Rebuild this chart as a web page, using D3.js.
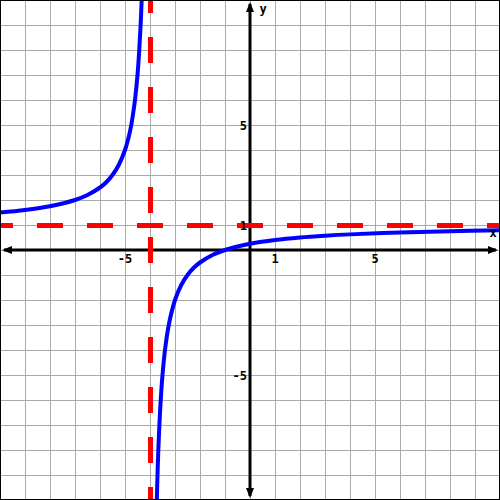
<!DOCTYPE html>
<html>
<head>
<meta charset="utf-8">
<script src="https://cdn.jsdelivr.net/npm/d3@7"></script>
<style>
  body { margin: 0; background: #fff; }
  text { font-family: "DejaVu Sans Mono", monospace; font-weight: bold; font-size: 12px; }
</style>
</head>
<body>
<div id="plot"></div>
<script>
// graph of a rational function, asymptotes x = -4 and y = 1

const domainX = [-10, 10];
const domainY = [-10, 10];
const xTickLabels = [-5, 1, 5];
const yTickLabels = [5, 1, -5];
const vAsymptote = -4;
const hAsymptote = 1;

// left branch
const leftX = [-10, -9, -8, -7, -6.5, -6, -5.75, -5.5, -5.25, -5, -4.85, -4.75, -4.67, -4.6, -4.5, -4.43, -4.375, -4.333];
const leftY = [1.5, 1.6, 1.75, 2.0, 2.2, 2.5, 2.71, 3.0, 3.4, 4.0, 4.53, 5.0, 5.5, 6.0, 7.0, 8.0, 9.0, 10];
// right branch
const rightX = [-3.727, -3.7, -3.667, -3.6, -3.55, -3.5, -3.4, -3.25, -3, -2.75, -2.5, -2.25, -2, -1.5, -1, -0.5, 0, 1, 2, 3, 4, 6, 8, 10];
const rightY = [-10, -9.0, -8.0, -6.5, -5.67, -5.0, -4.0, -3.0, -2.0, -1.4, -1.0, -0.71, -0.5, -0.2, 0, 0.14, 0.25, 0.4, 0.5, 0.57, 0.625, 0.7, 0.75, 0.786];

(function(){
  const size = 500;
  const svg = d3.select("#plot").append("svg").attr("width", size).attr("height", size);

  const x = d3.scaleLinear().domain(domainX).range([0, size]);
  const y = d3.scaleLinear().domain(domainY).range([size, 0]);

  // grid
  const grid = svg.append("g").attr("stroke", "#aaaaaa").attr("stroke-width", 1).attr("shape-rendering", "crispEdges");
  d3.range(domainX[0], domainX[1] + 1).forEach(v => {
    grid.append("line").attr("x1", x(v)).attr("x2", x(v)).attr("y1", 0).attr("y2", size);
  });
  d3.range(domainY[0], domainY[1] + 1).forEach(v => {
    grid.append("line").attr("y1", y(v)).attr("y2", y(v)).attr("x1", 0).attr("x2", size);
  });

  // axes with arrows at both ends
  const ax = svg.append("g");
  ax.append("line").attr("x1", 4).attr("x2", size - 4).attr("y1", y(0)).attr("y2", y(0))
    .attr("stroke", "#000").attr("stroke-width", 3);
  ax.append("line").attr("y1", 4).attr("y2", size - 4).attr("x1", x(0)).attr("x2", x(0))
    .attr("stroke", "#000").attr("stroke-width", 3);
  const arrows = [
    [[2, y(0)], [12, y(0) - 4], [12, y(0) + 4]],
    [[size - 2, y(0)], [size - 12, y(0) - 4], [size - 12, y(0) + 4]],
    [[x(0), 2], [x(0) - 4, 12], [x(0) + 4, 12]],
    [[x(0), size - 2], [x(0) - 4, size - 12], [x(0) + 4, size - 12]]
  ];
  arrows.forEach(p => ax.append("path").attr("d", "M" + p.join("L") + "Z").attr("fill", "#000"));

  // asymptotes
  const dash = svg.append("g").attr("stroke", "#ff0000").attr("stroke-width", 5)
    .attr("stroke-dasharray", "26,24").attr("stroke-dashoffset", 13).attr("shape-rendering", "crispEdges");
  dash.append("line").attr("x1", x(domainX[0])).attr("x2", x(domainX[1])).attr("y1", y(hAsymptote)).attr("y2", y(hAsymptote));
  dash.append("line").attr("x1", x(vAsymptote)).attr("x2", x(vAsymptote)).attr("y1", y(domainY[1])).attr("y2", y(domainY[0]));

  // curve
  const line = d3.line().x(d => x(d[0])).y(d => y(d[1])).curve(d3.curveCatmullRom.alpha(0.5));
  svg.append("path").datum(d3.zip(leftX, leftY)).attr("d", line)
    .attr("fill", "none").attr("stroke", "#0000ff").attr("stroke-width", 4);
  svg.append("path").datum(d3.zip(rightX, rightY)).attr("d", line)
    .attr("fill", "none").attr("stroke", "#0000ff").attr("stroke-width", 4);

  // labels
  const lab = svg.append("g").attr("fill", "#000");
  xTickLabels.forEach(v => {
    lab.append("text").attr("x", x(v)).attr("y", y(0) + 13).attr("text-anchor", "middle").text(v);
  });
  yTickLabels.forEach(v => {
    lab.append("text").attr("x", x(0) - 3).attr("y", y(v) + 5).attr("text-anchor", "end").text(v);
  });
  lab.append("text").attr("x", 493).attr("y", y(0) - 13).attr("text-anchor", "middle").text("x");
  lab.append("text").attr("x", x(0) + 13).attr("y", 13).attr("text-anchor", "middle").text("y");

  // border
  svg.append("rect").attr("x", 0.5).attr("y", 0.5).attr("width", size - 1).attr("height", size - 1)
    .attr("fill", "none").attr("stroke", "#000");
})();
</script>
</body>
</html>
